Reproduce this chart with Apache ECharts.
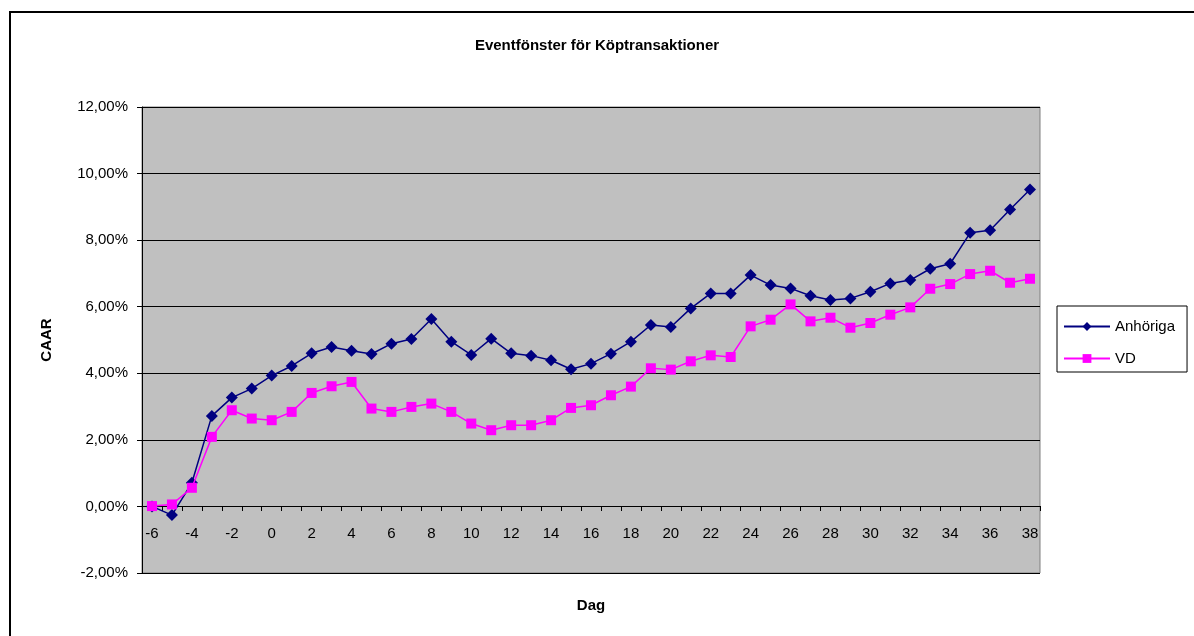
<!DOCTYPE html>
<html>
<head>
    <meta charset="utf-8">
    <title>Eventfönster för Köptransaktioner</title>
    <script src="https://cdn.jsdelivr.net/npm/echarts@6/dist/echarts.min.js"></script>
</head>
<body style="margin:0;background:#fff;">
    <div id="main" style="width: 1194px;height:636px;"></div>
    <script type="text/javascript">
        var days = ['-6', '-5', '-4', '-3', '-2', '-1', '0', '1', '2', '3', '4', '5', '6', '7', '8', '9', '10',
            '11', '12', '13', '14', '15', '16', '17', '18', '19', '20', '21', '22', '23', '24', '25', '26', '27',
            '28', '29', '30', '31', '32', '33', '34', '35', '36', '37', '38'];

        // CAAR i procent
        var anhoriga = [0.00, -0.26, 0.71, 2.72, 3.27, 3.54, 3.93, 4.22, 4.60, 4.79, 4.68, 4.58, 4.89, 5.03, 5.63,
            4.95, 4.55, 5.04, 4.60, 4.53, 4.39, 4.12, 4.29, 4.59, 4.95, 5.45, 5.39, 5.95, 6.40, 6.40, 6.95, 6.65,
            6.55, 6.33, 6.20, 6.25, 6.45, 6.70, 6.80, 7.14, 7.29, 8.22, 8.30, 8.92, 9.52];
        var vd = [0.01, 0.06, 0.56, 2.09, 2.89, 2.64, 2.59, 2.84, 3.41, 3.61, 3.74, 2.94, 2.84, 2.99, 3.09,
            2.84, 2.49, 2.29, 2.44, 2.44, 2.59, 2.96, 3.04, 3.34, 3.60, 4.15, 4.11, 4.36, 4.54, 4.49, 5.41, 5.61,
            6.07, 5.56, 5.67, 5.37, 5.51, 5.76, 5.98, 6.54, 6.68, 6.98, 7.08, 6.72, 6.84];

        var font = 'Arial, "Liberation Sans", sans-serif';
        var myChart = echarts.init(document.getElementById('main'));

        var option = {
            backgroundColor: '#fff',
            animation: false,
            textStyle: { fontFamily: font },
            title: {
                text: 'Eventfönster för Köptransaktioner',
                left: 'center',
                top: 33,
                textStyle: { fontSize: 15, fontWeight: 'bold', color: '#000', fontFamily: font }
            },
            graphic: [{
                type: 'rect',
                shape: { x: 10, y: 12, width: 1300, height: 700 },
                style: { fill: 'none', stroke: '#000', lineWidth: 2 },
                z: 100
            }],
            legend: {
                orient: 'vertical',
                left: 1057,
                top: 306,
                padding: [13, 12, 6, 6],
                itemGap: 17,
                itemWidth: 46,
                itemHeight: 11,
                borderColor: '#000',
                borderWidth: 1,
                backgroundColor: '#fff',
                textStyle: { fontSize: 15, color: '#000', fontFamily: font },
                data: ['Anhöriga', 'VD']
            },
            grid: {
                left: 142,
                top: 107,
                width: 898,
                height: 466,
                outerBoundsMode: 'none',
                containLabel: false,
                show: true,
                backgroundColor: '#C0C0C0',
                borderColor: '#808080',
                borderWidth: 1
            },
            xAxis: {
                type: 'category',
                data: days,
                boundaryGap: true,
                position: 'bottom',
                offset: -67,
                name: 'Dag',
                nameLocation: 'middle',
                nameGap: 92,
                nameTextStyle: { fontSize: 15, fontWeight: 'bold', color: '#000', fontFamily: font },
                axisLine: { onZero: false, lineStyle: { color: '#000', width: 1 } },
                axisTick: { show: true, interval: 0, length: 5, lineStyle: { color: '#000' } },
                axisLabel: { interval: 1, fontSize: 15, color: '#000', margin: 20, fontFamily: font },
                splitLine: { show: false }
            },
            yAxis: {
                type: 'value',
                min: -2,
                max: 12,
                interval: 2,
                name: 'CAAR',
                nameLocation: 'middle',
                nameGap: 88,
                nameRotate: 90,
                nameTextStyle: { fontSize: 15, fontWeight: 'bold', color: '#000', fontFamily: font },
                axisLine: { show: true, lineStyle: { color: '#000', width: 1 } },
                axisTick: { show: true, length: 5, lineStyle: { color: '#000' } },
                axisLabel: {
                    fontSize: 15,
                    color: '#000',
                    margin: 14,
                    fontFamily: font,
                    formatter: function (v) { return v.toFixed(2).replace('.', ',') + '%'; }
                },
                splitLine: { show: true, lineStyle: { color: '#000', width: 1 } }
            },
            series: [{
                name: 'Anhöriga',
                type: 'line',
                data: anhoriga,
                symbol: 'diamond',
                symbolSize: 12,
                showAllSymbol: true,
                color: '#000080',
                lineStyle: { color: '#000080', width: 1.5 },
                itemStyle: { color: '#000080' },
                z: 3
            }, {
                name: 'VD',
                type: 'line',
                data: vd,
                symbol: 'rect',
                symbolSize: 10,
                showAllSymbol: true,
                color: '#FF00FF',
                lineStyle: { color: '#FF00FF', width: 1.5 },
                itemStyle: { color: '#FF00FF' },
                z: 4
            }]
        };

        myChart.setOption(option);
    </script>
</body>
</html>
